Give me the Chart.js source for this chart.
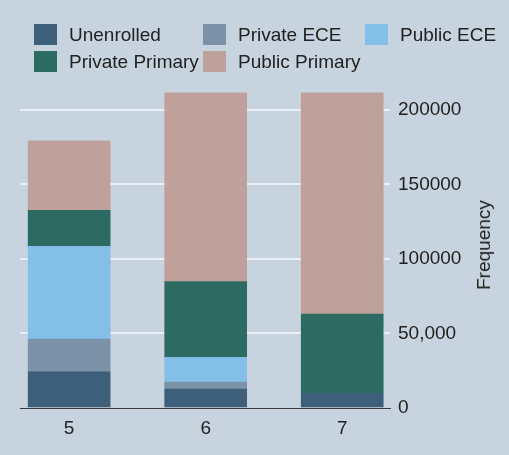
<!DOCTYPE html>
<html>
<head>
<meta charset="utf-8">
<script src="https://cdn.jsdelivr.net/npm/chart.js@4"></script>
<style>
  body { margin: 0; background: #c7d3de; }
  #wrap { position: relative; width: 509px; height: 455px; background: #c7d3de; }
  #legend {
    position: absolute; left: 34px; top: 24px;
    display: grid; grid-template-columns: 169px 162px auto; row-gap: 6px;
    font: 19px "Liberation Sans", Arial, sans-serif; color: #222;
  }
  .item { display: flex; align-items: center; height: 21px; white-space: nowrap; }
  .box { width: 23px; height: 21px; margin-right: 12px; flex: none; }
  #ytitle {
    position: absolute; left: 484px; top: 245px;
    transform: translate(-50%, -50%) rotate(-90deg);
    font: 19px "Liberation Sans", Arial, sans-serif; color: #222; white-space: nowrap;
  }
</style>
</head>
<body>
<div id="wrap">
  <canvas id="chart" width="509" height="455"></canvas>
  <div id="legend"></div>
  <div id="ytitle">Frequency</div>
</div>
<script>
// Data
const categories = [5, 6, 7];
const seriesNames = ["Unenrolled", "Private ECE", "Public ECE", "Private Primary", "Public Primary"];
const unenrolled = [24300, 12700, 9800];
const privateECE = [21900, 4700, 0];
const publicECE = [62200, 16500, 0];
const privatePrimary = [24100, 50900, 53100];
const publicPrimary = [46700, 126500, 148400];
const yTicks = [0, 50000, 100000, 150000, 200000];
const yTickLabels = ["0", "50,000", "100000", "150000", "200000"];

const colors = ["#3d5f7a", "#7c92a8", "#84bfe8", "#2d6b62", "#bea19b"];
const series = [unenrolled, privateECE, publicECE, privatePrimary, publicPrimary];
const font = { family: "'Liberation Sans', Arial, sans-serif", size: 19 };

const datasets = series.map((vals, i) => ({
    label: seriesNames[i],
    data: vals.map((v, j) => ({ x: categories[j], y: v })),
    backgroundColor: colors[i],
    barThickness: 82
}));

const chart = new Chart(document.getElementById("chart"), {
    type: "bar",
    data: { datasets: datasets },
    options: {
        responsive: false,
        animation: false,
        layout: { padding: { top: 90, left: 20, right: 0, bottom: 0 } },
        plugins: { legend: { display: false }, tooltip: { enabled: false } },
        scales: {
            x: {
                type: "linear",
                stacked: true,
                offset: false,
                bounds: "data",
                min: 4.64,
                max: 7.35,
                afterBuildTicks: s => { s.ticks = categories.map(v => ({ value: v })); },
                afterFit: s => { s.height = 47; },
                grid: { display: false },
                border: { display: true, color: "#3a3a3a", width: 1 },
                ticks: { font: font, color: "#222", padding: 1, callback: v => String(v) }
            },
            y: {
                position: "right",
                stacked: true,
                min: 0,
                max: 213200,
                afterBuildTicks: s => { s.ticks = yTicks.map(v => ({ value: v })); },
                afterFit: s => { s.width = 119; },
                border: { display: false },
                grid: {
                    drawTicks: false,
                    lineWidth: 2,
                    color: c => c.tick && c.tick.value === 0 ? "rgba(0,0,0,0)" : "#e9eff4"
                },
                ticks: {
                    font: font, color: "#222", padding: 8,
                    callback: v => yTickLabels[yTicks.indexOf(v)]
                }
            }
        }
    }
});

// Legend laid out in columns like the original
const legend = document.getElementById("legend");
chart.data.datasets.forEach(ds => {
    const div = document.createElement("div");
    div.className = "item";
    div.innerHTML = `<span class="box" style="background:${ds.backgroundColor}"></span><span>${ds.label}</span>`;
    legend.appendChild(div);
});
</script>
</body>
</html>
